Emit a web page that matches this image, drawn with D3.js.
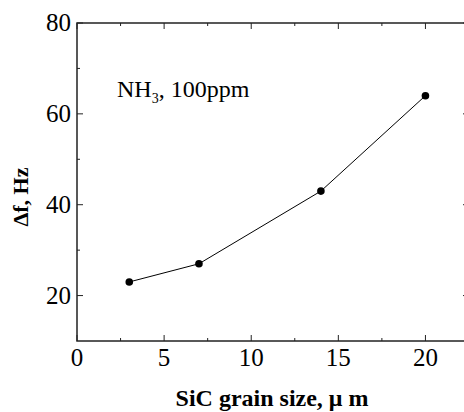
<!DOCTYPE html>
<html>
<head>
<meta charset="utf-8">
<script src="https://cdn.jsdelivr.net/npm/d3@7"></script>
<style>
  body { margin: 0; background: #fff; }
</style>
</head>
<body>
<svg id="chart" width="464" height="412" font-family="'Liberation Serif', 'Times New Roman', Times, serif"></svg>
<script>
// data
var grainSize = [3, 7, 14, 20];
var deltaF = [23, 27, 43, 64];
var xTicks = [0, 5, 10, 15, 20];
var yTicks = [20, 40, 60, 80];
var xMinor = [2.5, 7.5, 12.5, 17.5];
var yMinor = [30, 50, 70];

var svg = d3.select("#chart");

// plot box (right edge runs past the window, as in the source)
var boxL = 77, boxT = 23, boxR = 469, boxB = 341;

var x = d3.scaleLinear().domain([0, 22.5]).range([boxL, boxR]);
var y = d3.scaleLinear().domain([10, 80]).range([boxB, boxT]);

var g = svg.append("g");

// frame
g.append("rect")
    .attr("x", boxL).attr("y", boxT)
    .attr("width", boxR - boxL).attr("height", boxB - boxT)
    .attr("fill", "none").attr("stroke", "#222").attr("stroke-width", 1.5);

// ticks, pointing inward on all four sides
function xtick(vals, len) {
    vals.forEach(function(v) {
        g.append("line").attr("x1", x(v)).attr("x2", x(v))
            .attr("y1", boxB).attr("y2", boxB - len)
            .attr("stroke", "#222").attr("stroke-width", 1);
        g.append("line").attr("x1", x(v)).attr("x2", x(v))
            .attr("y1", boxT).attr("y2", boxT + len)
            .attr("stroke", "#222").attr("stroke-width", 1);
    });
}
function ytick(vals, len) {
    vals.forEach(function(v) {
        g.append("line").attr("x1", boxL).attr("x2", boxL + len)
            .attr("y1", y(v)).attr("y2", y(v))
            .attr("stroke", "#222").attr("stroke-width", 1);
        g.append("line").attr("x1", boxR).attr("x2", boxR - len)
            .attr("y1", y(v)).attr("y2", y(v))
            .attr("stroke", "#222").attr("stroke-width", 1);
    });
}
xtick(xTicks, 6);
xtick(xMinor, 3);
ytick(yTicks, 6);
ytick(yMinor, 3);

// tick labels
g.selectAll(".xl").data(xTicks).enter().append("text")
    .attr("x", function(d) { return x(d); })
    .attr("y", 366)
    .attr("text-anchor", "middle")
    .attr("font-size", "25px")
    .text(function(d) { return d; });

g.selectAll(".yl").data(yTicks).enter().append("text")
    .attr("x", 71)
    .attr("y", function(d) { return y(d) + 8; })
    .attr("text-anchor", "end")
    .attr("font-size", "25px")
    .text(function(d) { return d; });

// axis titles
svg.append("text")
    .attr("x", 272).attr("y", 406)
    .attr("text-anchor", "middle")
    .attr("font-size", "24px").attr("font-weight", "bold")
    .text("SiC grain size, \u03bc m");

svg.append("text")
    .attr("transform", "translate(28,197) rotate(-90)")
    .attr("text-anchor", "middle")
    .attr("font-size", "22px").attr("font-weight", "bold")
    .text("\u0394f, Hz");

// annotation
var ann = svg.append("text")
    .attr("x", 117).attr("y", 97)
    .attr("font-size", "24px");
ann.append("tspan").text("NH");
ann.append("tspan").attr("font-size", "14px").attr("dy", 6).text("3");
ann.append("tspan").attr("dy", -6).text(", 100ppm");

// series
var pts = grainSize.map(function(d, i) { return [d, deltaF[i]]; });
var line = d3.line().x(function(d) { return x(d[0]); }).y(function(d) { return y(d[1]); });

g.append("path").datum(pts)
    .attr("d", line)
    .attr("fill", "none").attr("stroke", "#000").attr("stroke-width", 1);

g.selectAll(".pt").data(pts).enter().append("circle")
    .attr("cx", function(d) { return x(d[0]); })
    .attr("cy", function(d) { return y(d[1]); })
    .attr("r", 3.8)
    .attr("fill", "#000");
</script>
</body>
</html>
